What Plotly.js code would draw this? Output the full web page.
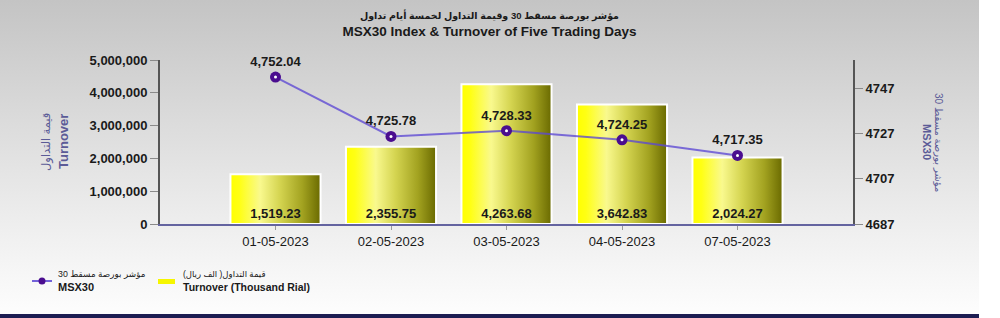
<!DOCTYPE html>
<html>
<head>
<meta charset="utf-8">
<script src="https://cdn.plot.ly/plotly-3.0.1.min.js"></script>
<style>
  html, body { margin: 0; padding: 0; background: #ffffff; }
  #wrap { position: relative; width: 1000px; height: 318px; overflow: hidden; }
  #bg { position: absolute; left: 0; top: 0; width: 979px; height: 314px;
        background: linear-gradient(to bottom, #c4c4c4 0%, #dcdcdc 40%, #f0f0f0 75%, #fdfdfd 100%); }
  #band { position: absolute; left: 0; top: 314px; width: 979px; height: 4px; background: #1d1d52; }
  #chart { position: absolute; left: 0; top: 0; width: 1000px; height: 318px; }
</style>
</head>
<body>
<div id="wrap">
  <div id="bg"></div>
  <div id="band"></div>
  <div id="chart"></div>
</div>
<script>
// ---- data ----
const dates = ['01-05-2023', '02-05-2023', '03-05-2023', '04-05-2023', '07-05-2023'];
const turnoverThousandRial = [1519.23, 2355.75, 4263.68, 3642.83, 2024.27];
const msx30Index = [4752.04, 4725.78, 4728.33, 4724.25, 4717.35];
const leftTicks = [0, 1000000, 2000000, 3000000, 4000000, 5000000];
const rightTicks = [4687, 4707, 4727, 4747];

const titleAr = '\u202Bمؤشر بورصة مسقط 30 وقيمة التداول لخمسة أيام تداول\u202C';
const titleEn = 'MSX30 Index &amp; Turnover of Five Trading Days';
const leftTitleAr = 'قيمة التداول';
const leftTitleEn = 'Turnover';
const rightTitleAr = '\u202Bمؤشر بورصة مسقط 30\u202C';
const rightTitleEn = 'MSX30';
const legendIndexAr = '\u202Bمؤشر بورصة مسقط 30\u202C';
const legendIndexEn = 'MSX30';
const legendTurnAr = '\u202Bقيمة التداول( الف ريال)\u202C';
const legendTurnEn = 'Turnover (Thousand Rial)';

// ---- layout helpers (pixel -> paper) ----
const M = { l: 160, r: 147, t: 60, b: 94 };
const PW = 1000 - M.l - M.r, PH = 318 - M.t - M.b;
const X = px => (px - M.l) / PW;
const Y = py => (318 - M.b - py) / PH;

const FONT = 'Arial, "Liberation Sans", "DejaVu Sans", sans-serif';
const AXT = '#5b5b97';
const TXT = '#1a1a1a';

const bars = {
  type: 'bar',
  x: dates,
  y: turnoverThousandRial.map(v => v * 1000),
  customdata: turnoverThousandRial,
  width: 0.78,
  marker: { color: '#ffff00', line: { color: '#ffffff', width: 2 } },
  texttemplate: '%{customdata:,.2f}',
  textposition: 'inside',
  insidetextanchor: 'start',
  textangle: 0,
  constraintext: 'none',
  insidetextfont: { family: FONT, size: 13, color: TXT, weight: 'bold' },
  hoverinfo: 'skip',
  showlegend: false
};

const line = {
  type: 'scatter',
  mode: 'lines+markers+text',
  x: dates,
  y: msx30Index,
  yaxis: 'y2',
  line: { color: 'rgba(92,72,212,0.78)', width: 2 },
  marker: { color: '#4a0d8f', size: 11 },
  texttemplate: '%{y:,.2f}',
  textposition: 'top center',
  textfont: { family: FONT, size: 13, color: TXT, weight: 'bold' },
  cliponaxis: false,
  hoverinfo: 'skip',
  showlegend: false
};

const dots = {
  type: 'scatter',
  mode: 'markers',
  x: dates,
  y: msx30Index,
  yaxis: 'y2',
  marker: { color: '#ffffff', size: 3 },
  cliponaxis: false,
  hoverinfo: 'skip',
  showlegend: false
};

const layout = {
  width: 1000, height: 318,
  margin: M,
  paper_bgcolor: 'rgba(0,0,0,0)',
  plot_bgcolor: 'rgba(0,0,0,0)',
  font: { family: FONT, color: TXT },
  showlegend: false,
  title: {
    text: '<b><span style="font-size:9.5px">' + titleAr + '</span></b><br><b>' + titleEn + '</b>',
    font: { family: FONT, size: 13.5, color: TXT },
    x: 489.5 / 1000, xref: 'container', xanchor: 'center',
    y: 1 - 18.5 / 318, yref: 'container', yanchor: 'middle'
  },
  xaxis: {
    type: 'category',
    range: [-1, 5],
    showline: true, linecolor: '#6464a0', linewidth: 2,
    ticks: 'outside', ticklen: 4, tickcolor: '#9a9a9a', tickwidth: 1,
    tickfont: { family: FONT, size: 13, color: TXT },
    showgrid: false, zeroline: false, fixedrange: true
  },
  yaxis: {
    range: [0, 5000000],
    tickvals: leftTicks,
    tickformat: ',d',
    showline: true, linecolor: '#555555', linewidth: 2,
    ticks: 'outside', ticklen: 8, tickcolor: '#8a8a8a', tickwidth: 1,
    tickfont: { family: FONT, size: 13, color: TXT, weight: 'bold' },
    showgrid: false, zeroline: false, fixedrange: true
  },
  yaxis2: {
    overlaying: 'y', side: 'right',
    range: [4687, 4759.6],
    tickvals: rightTicks,
    showline: true, linecolor: '#555555', linewidth: 2,
    ticks: 'outside', ticklen: 8, tickcolor: '#8a8a8a', tickwidth: 1,
    tickfont: { family: FONT, size: 13, color: TXT, weight: 'bold' },
    showgrid: false, zeroline: false, fixedrange: true
  },
  annotations: [
    // left axis title
    { text: leftTitleAr, xref: 'paper', yref: 'paper', x: X(47), y: Y(142),
      xanchor: 'center', yanchor: 'middle', textangle: -90, showarrow: false,
      font: { family: FONT, size: 11.5, color: AXT } },
    { text: '<b>' + leftTitleEn + '</b>', xref: 'paper', yref: 'paper', x: X(63), y: Y(142),
      xanchor: 'center', yanchor: 'middle', textangle: -90, showarrow: false,
      font: { family: FONT, size: 13, color: AXT } },
    // right axis title
    { text: rightTitleAr, xref: 'paper', yref: 'paper', x: X(939), y: Y(142),
      xanchor: 'center', yanchor: 'middle', textangle: 90, showarrow: false,
      font: { family: FONT, size: 10, color: AXT } },
    { text: '<b>' + rightTitleEn + '</b>', xref: 'paper', yref: 'paper', x: X(927), y: Y(142),
      xanchor: 'center', yanchor: 'middle', textangle: 90, showarrow: false,
      font: { family: FONT, size: 11, color: AXT } },
    // legend texts
    { text: legendIndexAr, xref: 'paper', yref: 'paper', x: X(56), y: Y(274),
      xanchor: 'left', yanchor: 'middle', showarrow: false,
      font: { family: FONT, size: 8.8, color: TXT } },
    { text: '<b>' + legendIndexEn + '</b>', xref: 'paper', yref: 'paper', x: X(56), y: Y(287),
      xanchor: 'left', yanchor: 'middle', showarrow: false,
      font: { family: FONT, size: 11, color: TXT } },
    { text: legendTurnAr, xref: 'paper', yref: 'paper', x: X(181), y: Y(274),
      xanchor: 'left', yanchor: 'middle', showarrow: false,
      font: { family: FONT, size: 8.5, color: TXT } },
    { text: '<b>' + legendTurnEn + '</b>', xref: 'paper', yref: 'paper', x: X(181), y: Y(287),
      xanchor: 'left', yanchor: 'middle', showarrow: false,
      font: { family: FONT, size: 10.5, color: TXT } }
  ],
  shapes: [
    // legend symbols
    { type: 'line', xref: 'paper', yref: 'paper', x0: X(32), x1: X(52), y0: Y(281), y1: Y(281),
      line: { color: 'rgba(92,72,212,0.85)', width: 2 } },
    { type: 'circle', xref: 'paper', yref: 'paper', x0: X(38.5), x1: X(45.5), y0: Y(277.5), y1: Y(284.5),
      fillcolor: '#4a0d8f', line: { width: 0 } },
    { type: 'rect', xref: 'paper', yref: 'paper', x0: X(158), x1: X(175), y0: Y(279), y1: Y(284),
      fillcolor: '#f6f600', line: { width: 0 } }
  ]
};

const gd = document.getElementById('chart');
Plotly.newPlot(gd, [bars, line, dots], layout, { displayModeBar: false, staticPlot: true }).then(() => {
  const svg = gd.querySelector('.main-svg');
  const NS = 'http://www.w3.org/2000/svg';
  let defs = svg.querySelector('defs');
  if (!defs) { defs = document.createElementNS(NS, 'defs'); svg.insertBefore(defs, svg.firstChild); }
  const g = document.createElementNS(NS, 'linearGradient');
  g.setAttribute('id', 'barGrad');
  g.setAttribute('x1', '0'); g.setAttribute('y1', '0');
  g.setAttribute('x2', '1'); g.setAttribute('y2', '0');
  [[0, '#ffff00'], [0.1, '#ffff14'], [0.33, '#f9f98e'], [0.55, '#d4d450'], [0.8, '#a2a220'], [1, '#6a6a00']]
    .forEach(([o, c]) => {
      const s = document.createElementNS(NS, 'stop');
      s.setAttribute('offset', o); s.setAttribute('stop-color', c);
      g.appendChild(s);
    });
  defs.appendChild(g);
  gd.querySelectorAll('.barlayer .point path').forEach(p => { p.style.fill = 'url(#barGrad)'; });
});
</script>
</body>
</html>
